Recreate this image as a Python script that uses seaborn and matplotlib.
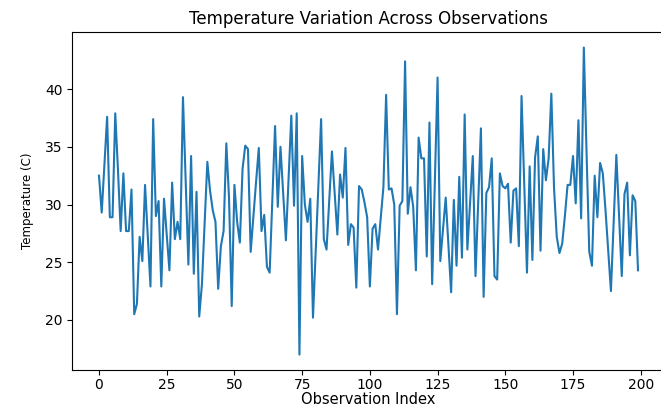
import matplotlib
matplotlib.use("Agg")
import matplotlib.pyplot as plt
import numpy as np
import pandas as pd
import seaborn as sns

# =========================
# データ
# =========================

title_text = "Temperature Variation Across Observations"
x_label = "Observation Index"
y_label = "Temperature (C)"

temperature = [
    32.5, 29.3, 33.4, 37.6, 28.9, 28.9, 37.9, 33.0, 27.7, 32.7,
    27.7, 27.7, 31.3, 20.5, 21.4, 27.2, 25.1, 31.7, 27.3, 22.9,
    37.4, 29.0, 30.3, 22.9, 30.5, 27.4, 24.3, 31.9, 27.0, 28.5,
    27.0, 39.3, 32.0, 24.8, 34.2, 24.0, 31.1, 20.3, 23.1, 28.4,
    33.7, 31.2, 29.5, 28.5, 22.7, 26.4, 27.7, 35.3, 30.6, 21.2,
    31.7, 28.5, 26.7, 33.1, 35.1, 34.8, 25.9, 29.0, 32.0, 34.9,
    27.7, 29.1, 24.6, 24.1, 30.4, 36.8, 29.8, 35.0, 31.0, 26.9,
    32.3, 37.7, 29.9, 37.9, 17.0, 34.2, 30.0, 28.5, 30.5, 20.2,
    26.0, 31.7, 37.4, 27.0, 26.1, 30.3, 34.6, 31.0, 27.4, 32.6,
    30.6, 34.9, 26.5, 28.3, 28.0, 22.8, 31.6, 31.3, 30.2, 28.9,
    22.9, 27.9, 28.3, 26.1, 28.8, 31.5, 39.5, 31.3, 31.4, 30.0,
    20.5, 29.9, 30.3, 42.4, 29.2, 31.5, 29.8, 24.3, 35.8, 34.0,
    34.0, 25.5, 37.1, 23.1, 32.0, 41.0, 25.1, 27.9, 30.6, 26.5,
    22.4, 30.4, 24.7, 32.4, 25.4, 37.8, 26.1, 30.2, 34.2, 23.8,
    30.2, 36.6, 22.0, 31.0, 31.5, 34.0, 23.8, 23.5, 32.7, 31.6,
    31.4, 31.8, 26.7, 31.2, 31.4, 26.4, 39.4, 31.8, 24.1, 33.3,
    25.2, 34.1, 35.9, 26.0, 34.8, 32.1, 34.0, 39.6, 31.4, 27.2,
    25.8, 26.6, 29.0, 31.7, 31.7, 34.2, 30.1, 37.3, 28.8, 43.6,
    34.5, 25.9, 24.7, 32.5, 28.9, 33.6, 32.7, 29.5, 26.0, 22.5,
    28.4, 34.3, 29.0, 23.8, 30.9, 31.9, 25.6, 30.8, 30.3, 24.3,
]

x_ticks = [0, 25, 50, 75, 100, 125, 150, 175, 200]
y_ticks = [20, 25, 30, 35, 40]

df = pd.DataFrame({
    "index": np.arange(len(temperature)),
    "temperature": temperature,
})

# =========================
# 描画
# =========================

fig = plt.figure(figsize=(6.61, 4.07), dpi=100)
# 元画像は右端が切れているので、軸を少しはみ出させる
ax = fig.add_axes([0.109, 0.091, 0.897, 0.830])

sns.lineplot(data=df, x="index", y="temperature", ax=ax,
             color="#1f77b4", linewidth=1.5)

ax.set_xticks(x_ticks)
ax.set_yticks(y_ticks)
ax.tick_params(axis="both", labelsize=10, length=3.5)
ax.tick_params(axis="x", pad=2)
ax.set_title(title_text, fontsize=12)
ax.set_xlabel(x_label, fontsize=10.5, labelpad=0)
ax.set_ylabel(y_label, fontsize=8.5, labelpad=8)

fig.savefig("out.png", dpi=100)
